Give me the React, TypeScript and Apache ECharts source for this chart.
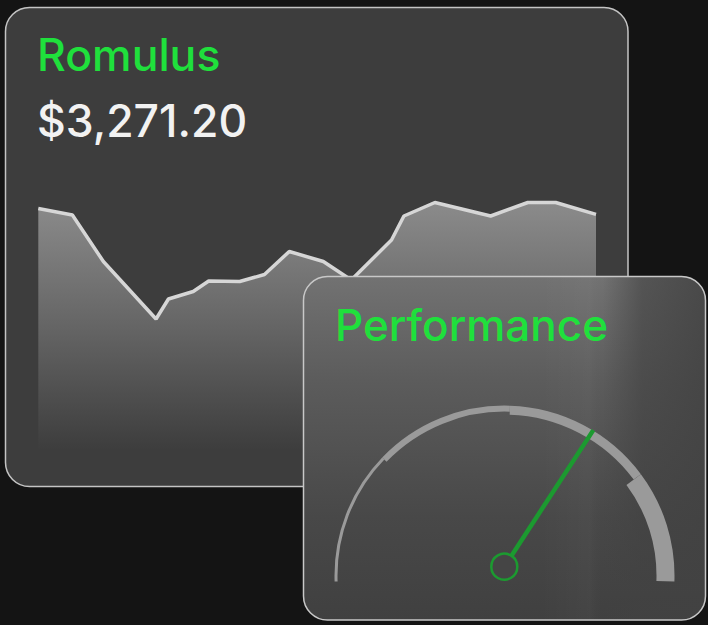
import { useEffect, useRef } from "react";
import * as echarts from "echarts";

// price history (x = trading day, y = price in $)
const days = [0, 11, 21, 38, 42, 50, 55, 65, 73, 81, 92, 101, 114, 118, 128, 146, 158, 167, 180];
const prices = [
  3283, 3270, 3177, 3062, 3102, 3117, 3138, 3137, 3151, 3197, 3177, 3140, 3220, 3268, 3295, 3268,
  3295, 3295, 3271.2,
];

const tickerName = "Romulus";
const gaugeTitle = "Performance";

// gauge: score plus the bands of the dial (stops on a 0..100 scale, ring width of each band)
const performance = 68;
const bandStops = [0, 25, 51, 79, 100];
const bandWidths = [3, 6, 9, 18];

const GREEN = "#1fe03c";
const NEEDLE = "#1c9a30";
const FONT = "Inter, 'Liberation Sans', sans-serif";
const START = 182;
const END = -2;

const angleOf = (v: number) => START + ((END - START) * v) / 100;

export default function App() {
  const chartRef = useRef<HTMLDivElement>(null);

  useEffect(() => {
    if (!chartRef.current) return;
    const chart = echarts.init(chartRef.current, null, { renderer: "svg" });

    const lastPrice = prices[prices.length - 1];
    const priceText =
      "$" + lastPrice.toLocaleString("en-US", { minimumFractionDigits: 2, maximumFractionDigits: 2 });

    const bandSeries = bandWidths.map((w, i) => ({
      type: "gauge",
      z: 10,
      center: [504.5, 575.6],
      radius: 170,
      startAngle: angleOf(bandStops[i]),
      endAngle: angleOf(bandStops[i + 1]),
      min: 0,
      max: 100,
      axisLine: { lineStyle: { width: w, color: [[1, "#9a9a9a"]] } },
      axisTick: { show: false },
      splitLine: { show: false },
      axisLabel: { show: false },
      pointer: { show: false },
      anchor: { show: false },
      title: { show: false },
      detail: { show: false },
      data: [],
    }));

    chart.setOption({
      animation: false,
      backgroundColor: "#141414",
      grid: { left: 38.3, right: 112, top: 190, bottom: 175 },
      xAxis: { type: "value", min: 0, max: 180, show: false },
      yAxis: { type: "value", min: 2800, max: 3320, show: false },
      graphic: [
        {
          type: "rect",
          z: 0,
          shape: { x: 5.5, y: 7.5, width: 622.5, height: 479, r: 24 },
          style: { fill: "#3d3d3d", stroke: "#c4c4c4", lineWidth: 1.5 },
        },
        {
          type: "text",
          z: 1,
          x: 37,
          y: 55,
          style: {
            text: tickerName,
            fill: GREEN,
            font: "500 44.5px " + FONT,
            verticalAlign: "middle",
          },
        },
        {
          type: "text",
          z: 1,
          x: 37,
          y: 121,
          style: {
            text: priceText,
            fill: "#f2f2f2",
            font: "500 44.5px " + FONT,
            verticalAlign: "middle",
          },
        },
        {
          type: "rect",
          z: 5,
          shape: { x: 303.5, y: 276.5, width: 402, height: 343.5, r: 24 },
          style: {
            fill: new echarts.graphic.LinearGradient(0, 0, 0, 1, [
              { offset: 0, color: "#727272" },
              { offset: 0.3, color: "#5c5c5c" },
              { offset: 0.5, color: "#525252" },
              { offset: 0.7, color: "#484848" },
              { offset: 1, color: "#404040" },
            ]),
          },
        },
        {
          type: "rect",
          z: 6,
          shape: { x: 540, y: 277, width: 165, height: 342.5, r: [0, 23, 23, 0] },
          style: {
            fill: new echarts.graphic.LinearGradient(0, 0, 1, 0, [
              { offset: 0, color: "rgba(255,255,255,0)" },
              { offset: 0.3, color: "rgba(255,255,255,0.025)" },
              { offset: 0.38, color: "rgba(66,66,66,0)" },
              { offset: 0.62, color: "rgba(66,66,66,0.62)" },
              { offset: 1, color: "rgba(66,66,66,0.85)" },
            ]),
          },
        },
        {
          type: "rect",
          z: 7,
          shape: { x: 303.5, y: 276.5, width: 402, height: 343.5, r: 24 },
          style: { fill: "none", stroke: "#c8c8c8", lineWidth: 1.5 },
        },
        {
          type: "text",
          z: 7,
          x: 335,
          y: 325,
          style: {
            text: gaugeTitle,
            fill: GREEN,
            font: "500 44px " + FONT,
            verticalAlign: "middle",
          },
        },
      ],
      series: [
        {
          type: "line",
          z: 2,
          data: days.map((d, i) => [d, prices[i]]),
          symbol: "none",
          lineStyle: { color: "#d6d6d6", width: 3.5 },
          areaStyle: {
            origin: "start",
            color: new echarts.graphic.LinearGradient(0, 0, 0, 1, [
              { offset: 0, color: "#acacac" },
              { offset: 0.5, color: "#767676" },
              { offset: 1, color: "#3d3d3d" },
            ]),
          },
        },
        ...bandSeries,
        {
          type: "gauge",
          z: 11,
          center: [504.3, 566.7],
          radius: 163,
          startAngle: START,
          endAngle: END,
          min: 0,
          max: 100,
          axisLine: { show: false },
          axisTick: { show: false },
          splitLine: { show: false },
          axisLabel: { show: false },
          pointer: {
            show: true,
            icon: "rect",
            length: 163,
            width: 4.5,
            offsetCenter: [0, 0],
            itemStyle: { color: NEEDLE },
          },
          anchor: {
            show: true,
            showAbove: true,
            size: 26,
            icon: "circle",
            itemStyle: { color: "#454545", borderColor: NEEDLE, borderWidth: 2.5 },
          },
          title: { show: false },
          detail: { show: false },
          data: [{ value: performance }],
        },
      ],
    });

    return () => {
      chart.dispose();
    };
  }, []);

  return (
    <div
      ref={chartRef}
      style={{ position: "fixed", left: 0, top: 0, width: 708, height: 625 }}
    />
  );
}
